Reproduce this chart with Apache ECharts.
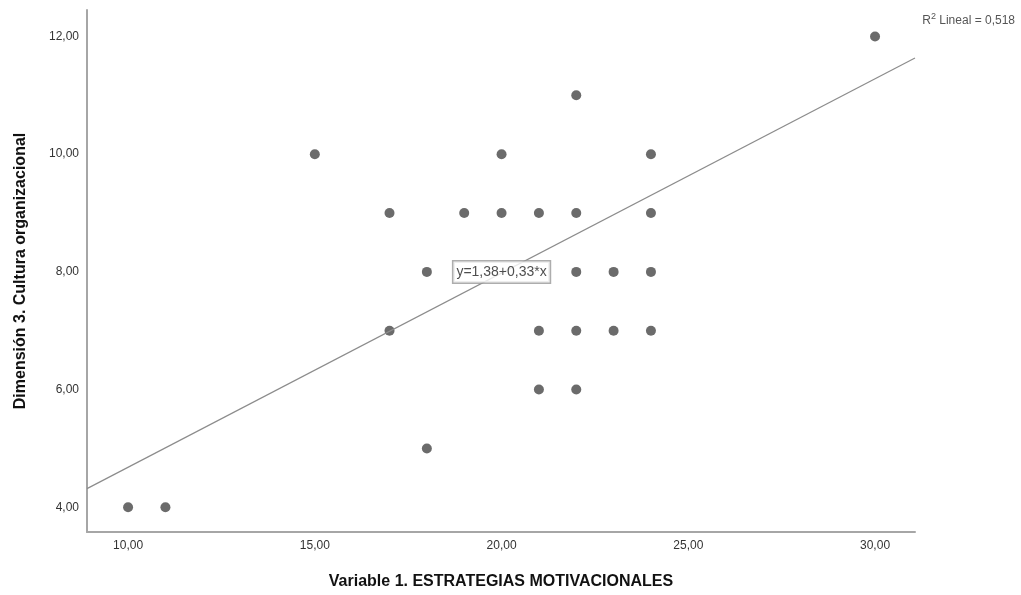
<!DOCTYPE html>
<html>
<head>
<meta charset="utf-8">
<script src="https://cdn.jsdelivr.net/npm/echarts@6/dist/echarts.min.js"></script>
<style>
html,body{margin:0;padding:0;background:#fff;}
#chart{width:1021px;height:595px;}
</style>
</head>
<body>
<div id="chart"></div>
<script>
// Observations: strategies score (x) vs. organisational culture score (y)
const xValues = [10, 11, 15, 17, 17, 18, 18, 19, 20, 20, 21, 21, 21, 22, 22, 22, 22, 22, 23, 23, 24, 24, 24, 24, 30];
const yValues = [4, 4, 10, 9, 7, 8, 5, 9, 10, 9, 9, 7, 6, 11, 9, 8, 7, 6, 8, 7, 10, 9, 8, 7, 12];
// Fitted linear model and its fit statistic
const intercept = 1.38;
const slope = 0.33;
const rSquared = '0,518';
const fitLabel = 'y=1,38+0,33*x';
const xTicks = [10, 15, 20, 25, 30];
const yTicks = [4, 6, 8, 10, 12];

const xMin = 8.9, xMax = 31.07;
const yMin = 3.58, yMax = 12.45;

const fmt = v => v.toFixed(2).replace('.', ',');
const points = xValues.map((x, i) => [x, yValues[i]]);
const fitLine = [[xMin, intercept + slope * xMin], [xMax, intercept + slope * xMax]];

const FONT = 'Liberation Sans, Arial, sans-serif';
const chart = echarts.init(document.getElementById('chart'));
const axisLine = { show: true, lineStyle: { color: '#a6a6a6', width: 2 } };
const labelStyle = { color: '#333', fontSize: 12, fontFamily: FONT };

chart.setOption({
  animation: false,
  grid: { left: 87, right: 106, top: 10, bottom: 63, outerBoundsMode: 'none', containLabel: false },
  xAxis: {
    type: 'value', min: xMin, max: xMax,
    axisLine: axisLine, axisTick: { show: false }, splitLine: { show: false },
    axisLabel: Object.assign({}, labelStyle, {
      margin: 8,
      customValues: xTicks,
      formatter: v => fmt(v)
    }),
    name: 'Variable 1. ESTRATEGIAS MOTIVACIONALES',
    nameLocation: 'middle', nameGap: 42,
    nameTextStyle: { color: '#111', fontSize: 16, fontWeight: 'bold', fontFamily: FONT }
  },
  yAxis: {
    type: 'value', min: yMin, max: yMax,
    axisLine: axisLine, axisTick: { show: false }, splitLine: { show: false },
    axisLabel: Object.assign({}, labelStyle, {
      margin: 8,
      customValues: yTicks,
      formatter: v => fmt(v)
    }),
    name: 'Dimensión 3. Cultura organizacional',
    nameLocation: 'middle', nameGap: 58,
    nameTextStyle: { color: '#111', fontSize: 16, fontWeight: 'bold', fontFamily: FONT }
  },
  series: [
    {
      type: 'line', data: fitLine, symbol: 'none', silent: true,
      lineStyle: { color: '#8c8c8c', width: 1.2 }
    },
    {
      type: 'scatter', data: points, symbolSize: 10,
      itemStyle: { color: '#6b6b6b', opacity: 1 }
    },
    {
      // fitted-equation label anchored in data space
      type: 'scatter', data: [[20, 8]], symbolSize: 0, silent: true, z: 5,
      label: {
        show: true, position: 'inside', formatter: fitLabel,
        color: '#222', fontSize: 14, fontFamily: FONT,
        backgroundColor: '#fff', borderColor: '#999', borderWidth: 1.5,
        padding: [4, 3, 3, 3]
      }
    }
  ],
  graphic: [{
    type: 'text', right: 6, top: 12,
    style: {
      text: '{s|R}{p|2}{s| Lineal = ' + rSquared + '}',
      rich: {
        s: { fontSize: 12, fill: '#555', fontFamily: FONT, verticalAlign: 'bottom' },
        p: { fontSize: 9, fill: '#555', fontFamily: FONT, verticalAlign: 'top', padding: [0, 0, 6, 0] }
      }
    }
  }]
});
</script>
</body>
</html>
